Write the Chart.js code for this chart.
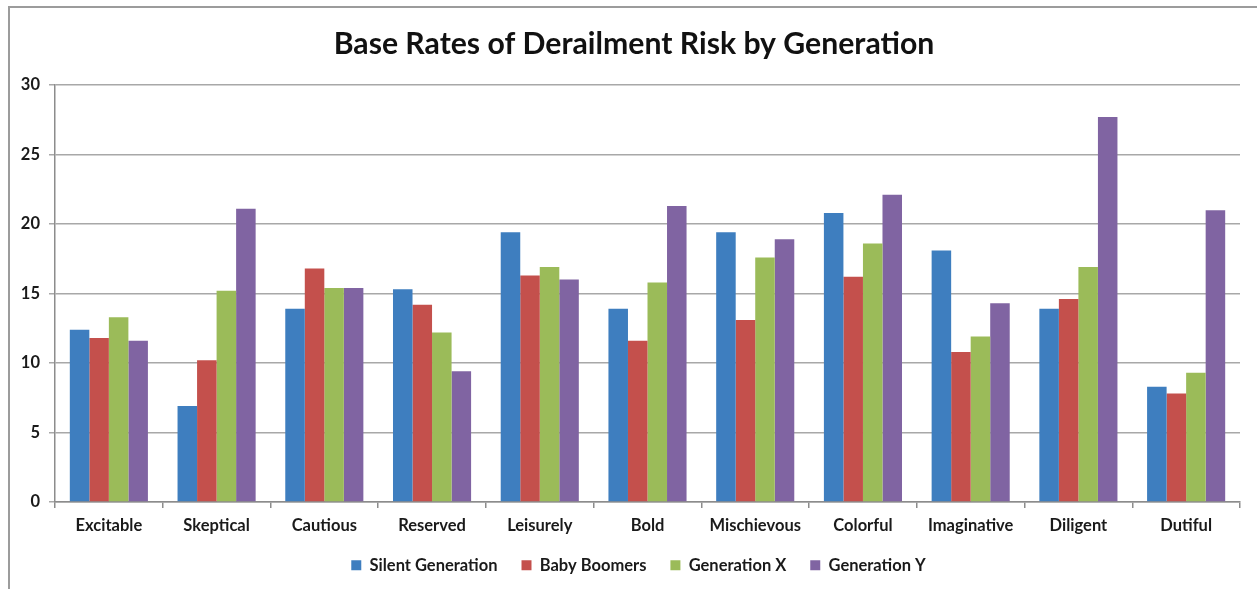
<!DOCTYPE html>
<html>
<head>
<meta charset="utf-8">
<title>Base Rates of Derailment Risk by Generation</title>
<script src="https://cdn.jsdelivr.net/npm/chart.js@4/dist/chart.umd.min.js"></script>
<style>
  html, body { margin: 0; padding: 0; background: #ffffff; }
  #wrap { width: 1257px; height: 589px; position: relative; }
</style>
</head>
<body>
<div id="wrap"><canvas id="chart" width="1257" height="589"></canvas></div>
<script>
// Derailment scales (categories) and base rates per generation
const categories = ['Excitable', 'Skeptical', 'Cautious', 'Reserved', 'Leisurely', 'Bold',
                    'Mischievous', 'Colorful', 'Imaginative', 'Diligent', 'Dutiful'];
const silentGeneration = [12.4, 6.9, 13.9, 15.3, 19.4, 13.9, 19.4, 20.8, 18.1, 13.9, 8.3];
const babyBoomers      = [11.8, 10.2, 16.8, 14.2, 16.3, 11.6, 13.1, 16.2, 10.8, 14.6, 7.8];
const generationX      = [13.3, 15.2, 15.4, 12.2, 16.9, 15.8, 17.6, 18.6, 11.9, 16.9, 9.3];
const generationY      = [11.6, 21.1, 15.4, 9.4, 16.0, 21.3, 18.9, 22.1, 14.3, 27.7, 21.0];
const yTicks = [0, 5, 10, 15, 20, 25, 30];

const FONT = 'Lato, "Open Sans", "Liberation Sans", sans-serif';

// White background plus the thin outer frame on the left and top edges
const framePlugin = {
  id: 'frame',
  beforeDraw(chart) {
    const ctx = chart.ctx;
    ctx.save();
    ctx.fillStyle = '#ffffff';
    ctx.fillRect(0, 0, chart.width, chart.height);
    ctx.strokeStyle = '#9c9c9c';
    ctx.lineWidth = 2;
    ctx.beginPath();
    ctx.moveTo(9, chart.height);
    ctx.lineTo(9, 7);
    ctx.lineTo(chart.width, 7);
    ctx.stroke();
    ctx.restore();
  }
};

// Centre the title and legend a little right of the canvas middle,
// and seat the legend row just under the category labels
const placementPlugin = {
  id: 'placement',
  afterLayout(chart) {
    if (chart.titleBlock) {
      chart.titleBlock.left = 28;
    }
    if (chart.legend) {
      chart.legend.left = 37;
      chart.legend.top = 533;
    }
  }
};

new Chart(document.getElementById('chart'), {
  type: 'bar',
  data: {
    labels: categories,
    datasets: [
      { label: 'Silent Generation', data: silentGeneration, backgroundColor: '#3E7EBF' },
      { label: 'Baby Boomers',      data: babyBoomers,      backgroundColor: '#C4504C' },
      { label: 'Generation X',      data: generationX,      backgroundColor: '#9BBB59' },
      { label: 'Generation Y',      data: generationY,      backgroundColor: '#8064A2' }
    ]
  },
  options: {
    responsive: false,
    animation: false,
    events: [],
    datasets: { bar: { categoryPercentage: 0.725, barPercentage: 1.0, borderWidth: 0 } },
    layout: { padding: { left: 14, right: 17, top: 0, bottom: 7 } },
    plugins: {
      title: {
        display: true,
        text: 'Base Rates of Derailment Risk by Generation',
        color: '#111111',
        font: { family: FONT, size: 30.2, weight: 'bold', lineHeight: 1.2 },
        padding: { top: 26, bottom: 22.8 }
      },
      legend: {
        position: 'bottom',
        maxHeight: 44,
        labels: {
          color: '#1a1a1a',
          font: { family: FONT, size: 16.5, weight: 'bold' },
          boxWidth: 10,
          boxHeight: 10,
          padding: 24
        }
      },
      tooltip: { enabled: false }
    },
    scales: {
      x: {
        grid: { display: true, drawOnChartArea: false, drawTicks: true, tickLength: 6,
                color: '#8c8c8c', lineWidth: 1.5, offset: true },
        border: { display: true, color: '#8c8c8c', width: 1.5 },
        ticks: { color: '#1a1a1a', padding: 8, maxRotation: 0,
                 font: { family: FONT, size: 16.5, weight: 'bold' } },
        afterFit(scale) { scale.height = 36; }
      },
      y: {
        min: 0,
        max: 30,
        afterBuildTicks(scale) { scale.ticks = yTicks.map(v => ({ value: v })); },
        grid: { color: '#a8a8a8', lineWidth: 1.5, tickLength: 6, drawTicks: true },
        border: { display: true, color: '#8c8c8c', width: 1.5 },
        ticks: { color: '#1a1a1a', padding: 9,
                 font: { family: FONT, size: 16.5, weight: 'bold' } },
        afterFit(scale) { scale.width = 41; }
      }
    }
  },
  plugins: [framePlugin, placementPlugin]
});
</script>
</body>
</html>
